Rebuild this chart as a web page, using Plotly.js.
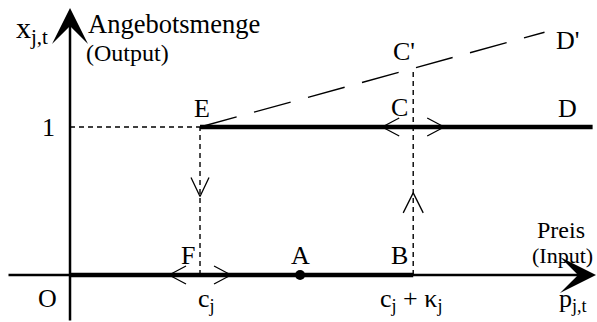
<!DOCTYPE html>
<html>
<head>
<meta charset="utf-8">
<script src="https://cdn.plot.ly/plotly-3.0.1.min.js"></script>
<style>
  body { margin: 0; background: #fff; }
  #chart { width: 597px; height: 322px; }
</style>
</head>
<body>
<div id="chart"></div>
<script>
// price axis: O, c_j, c_j + kappa_j  (c_j taken as 1 unit)
var priceLabels = ['O', 'c<sub>j</sub>', 'c<sub>j</sub> + κ<sub>j</sub>'];
var priceValues = [0, 1, 2.64];
var priceA = 1.77;

// supply at output 1 (E -> D) and at output 0 (O -> B)
var supplyX = [1, 4.02];
var supplyY = [1, 1];
var zeroX = [0, 2.64];
var zeroY = [0, 0];

// shifted supply line E -> D'
var shiftedX = [1, 3.65];
var shiftedY = [1, 1.64];

var W = 597, H = 322;
var xRange = [-0.5385, 4.0538];
var yRange = [-0.3176, 1.8581];
var ux = (xRange[1] - xRange[0]) / W;   // data units per pixel
var uy = (yRange[1] - yRange[0]) / H;

var font = 'Liberation Serif, Times New Roman, serif';
var cB = priceValues[2];
// height of shifted line above B (point C')
var cPrimeY = shiftedY[0] + (cB - shiftedX[0]) * (shiftedY[1] - shiftedY[0]) / (shiftedX[1] - shiftedX[0]);

// small open arrow heads along the lines
function chevron(x, y, dir) {
  var t = 31, a = 14, h = 9;
  if (dir === 'left')  return {x: [x - a*ux, x - t*ux, x - a*ux], y: [y + h*uy, y, y - h*uy]};
  if (dir === 'right') return {x: [x + a*ux, x + t*ux, x + a*ux], y: [y + h*uy, y, y - h*uy]};
  if (dir === 'down')  return {x: [x - 9*ux, x, x + 9*ux], y: [y + 19*uy, y, y + 19*uy]};
  return {x: [x - 10*ux, x, x + 10*ux], y: [y - 20*uy, y, y - 20*uy]};
}

var thin = {color: '#000', width: 1.4, dash: '5px,4px'};
var traces = [
  {x: [priceValues[1], priceValues[1]], y: [0, 1], line: thin},
  {x: [cB, cB], y: [0, cPrimeY], line: thin},
  {x: [0, priceValues[1]], y: [1, 1], line: thin},
  {x: shiftedX, y: shiftedY, line: {color: '#000', width: 1.4, dash: '38px,18px'}},
  {x: supplyX, y: supplyY, line: {color: '#000', width: 4.5}},
  {x: zeroX, y: zeroY, line: {color: '#000', width: 4.5}},
  {x: [priceA], y: [0], mode: 'markers', marker: {color: '#000', size: 10}}
];
var chevrons = [
  chevron(priceValues[1], 0, 'left'), chevron(priceValues[1], 0, 'right'),
  chevron(cB, 1, 'left'), chevron(cB, 1, 'right'),
  chevron(priceValues[1], 0.53, 'down'), chevron(cB, 0.555, 'up')
];
chevrons.forEach(function (c) {
  traces.push({x: c.x, y: c.y, line: {color: '#000', width: 1.3}});
});
traces.forEach(function (t) {
  t.type = 'scatter';
  if (!t.mode) t.mode = 'lines';
  t.showlegend = false;
  t.hoverinfo = 'skip';
});

function label(text, pxX, pxY, size, anchor) {
  return {
    text: text, xref: 'paper', yref: 'paper',
    x: pxX / W, y: 1 - pxY / H, xanchor: anchor || 'center', yanchor: 'middle',
    showarrow: false, font: {family: font, size: size, color: '#000'}
  };
}

var annotations = [
  // axes with arrow heads
  {x: xRange[1] - 1*ux, y: 0, ax: xRange[0] + 7*ux, ay: 0, xref: 'x', yref: 'y', axref: 'x', ayref: 'y',
   text: '', showarrow: true, arrowhead: 3, arrowsize: 2.4, arrowwidth: 2.5, arrowcolor: '#000'},
  {x: 0, y: yRange[1] - 8*uy, ax: 0, ay: yRange[0], xref: 'x', yref: 'y', axref: 'x', ayref: 'y',
   text: '', showarrow: true, arrowhead: 3, arrowsize: 2.4, arrowwidth: 2.5, arrowcolor: '#000'},
  label('x<sub>j,t</sub>', 32, 30, 30),
  label('Angebotsmenge', 86, 24, 26.5, 'left'),
  label('(Output)', 84, 53, 24, 'left'),
  label('1', 48, 128, 26),
  label('E', 202, 109, 26),
  label("C'", 404, 52, 26),
  label("D'", 567, 40, 26),
  label('C', 399, 108, 26),
  label('D', 567, 109, 26),
  label('F', 188, 255, 26),
  label('A', 300, 255, 26),
  label('B', 399, 255, 26),
  label(priceLabels[0], 47, 298, 26),
  label(priceLabels[1], 206, 300, 26),
  label(priceLabels[2], 411, 300, 26),
  label('p<sub>j,t</sub>', 573, 300, 26),
  label('Preis', 561, 230, 24),
  label('(Input)', 562, 256, 22)
];

var layout = {
  width: W, height: H,
  margin: {l: 0, r: 0, t: 0, b: 0},
  paper_bgcolor: '#fff', plot_bgcolor: '#fff',
  xaxis: {range: xRange, visible: false, fixedrange: true},
  yaxis: {range: yRange, visible: false, fixedrange: true},
  annotations: annotations,
  hovermode: false
};

Plotly.newPlot('chart', traces, layout, {displayModeBar: false, staticPlot: true});
</script>
</body>
</html>
